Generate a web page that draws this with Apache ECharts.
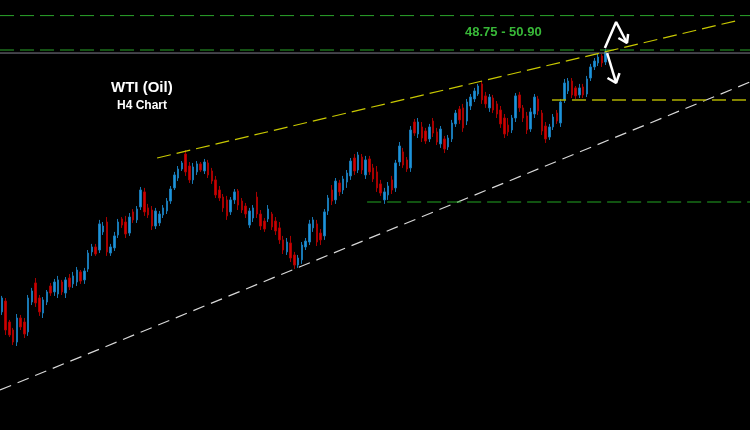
<!DOCTYPE html>
<html><head><meta charset="utf-8">
<script src="https://cdn.jsdelivr.net/npm/echarts@6/dist/echarts.min.js"></script>
<style>html,body{margin:0;padding:0;background:#000}#c{width:750px;height:430px}</style>
</head><body><div id="c"></div>
<script>
// H4 candles: [open, close, low, high]
const ohlc = [
[32.38,33.25,32.19,33.38],[33.06,31.25,30.94,33.25],[31.75,30.94,30.81,31.88],[31.25,30.5,30.31,31.38],
[30.5,32.0,30.25,32.25],[32.0,31.44,31.25,32.19],[31.75,31.0,30.75,32.0],[31.13,33.25,30.88,33.44],
[33.0,33.69,32.81,33.88],[34.19,32.94,32.69,34.5],[33.25,32.38,32.13,33.44],[32.31,33.13,32.0,33.31],
[33.0,33.63,32.81,33.75],[34.0,33.56,33.38,34.19],[33.63,34.25,33.38,34.44],[33.5,34.38,33.25,34.63],
[34.25,33.63,33.44,34.38],[33.56,34.38,33.25,34.56],[34.5,33.94,33.75,34.75],[34.13,34.63,33.88,34.88],
[34.25,35.0,34.0,35.19],[34.88,34.31,34.13,35.0],[34.38,34.94,34.13,35.13],[35.06,36.06,34.88,36.25],
[36.13,36.44,35.88,36.63],[36.44,36.0,35.88,36.63],[36.25,37.88,36.06,38.13],[37.38,37.75,37.19,38.0],
[38.0,36.13,35.88,38.31],[36.06,36.44,35.88,36.63],[36.38,37.13,36.19,37.38],[37.19,38.0,37.0,38.19],
[38.19,37.81,37.63,38.31],[38.0,37.25,37.0,38.38],[37.31,38.31,37.13,38.56],[38.63,38.13,37.94,38.81],
[38.13,38.81,37.94,39.0],[38.94,40.0,38.75,40.19],[39.88,38.63,38.38,40.13],[38.88,38.44,38.25,39.13],
[38.75,37.75,37.5,39.0],[37.75,38.69,37.56,38.88],[37.94,38.5,37.75,38.69],[38.44,38.88,38.25,39.06],
[38.69,39.31,38.5,39.5],[39.31,40.06,39.13,40.25],[40.13,40.94,40.0,41.13],[40.75,41.31,40.56,41.5],
[41.31,41.69,41.19,41.81],[42.25,41.13,40.88,42.5],[41.5,40.63,40.44,41.75],[40.63,41.44,40.38,41.69],
[41.13,41.63,40.94,41.81],[41.63,41.25,41.13,41.75],[41.19,41.75,41.0,41.94],[41.69,40.94,40.75,41.88],
[41.19,40.56,40.38,41.38],[40.63,39.69,39.5,40.88],[40.0,39.5,39.31,40.25],[39.56,38.88,38.63,39.75],
[39.38,38.38,38.13,39.63],[38.63,39.38,38.44,39.56],[39.38,39.88,39.13,40.06],[39.94,39.06,38.75,40.06],
[39.31,38.75,38.56,39.5],[39.0,38.5,38.25,39.19],[37.81,38.69,37.63,38.88],[38.25,38.88,38.0,39.06],
[39.56,38.5,38.25,39.88],[38.5,37.75,37.5,38.75],[38.06,37.56,37.38,38.25],[38.19,38.81,38.0,39.06],
[38.5,37.69,37.5,38.63],[38.06,37.44,37.19,38.31],[37.63,36.88,36.63,38.0],[36.88,36.25,36.0,37.13],
[36.13,36.75,35.94,37.0],[36.69,35.75,35.5,37.13],[35.94,35.31,35.06,36.13],[35.31,35.75,35.13,35.94],
[35.63,36.56,35.38,36.75],[36.44,36.81,36.25,37.0],[36.75,37.88,36.56,38.13],[37.63,38.13,37.38,38.31],
[37.88,36.75,36.5,38.13],[37.31,36.88,36.56,37.56],[37.13,38.63,36.88,38.81],[38.69,39.5,38.44,39.69],
[40.0,39.31,39.06,40.31],[39.38,40.56,39.13,40.75],[40.44,39.88,39.63,40.63],[40.0,40.69,39.75,40.88],
[40.5,41.06,40.13,41.25],[40.88,41.81,40.63,42.0],[42.0,41.19,40.94,42.25],[41.25,42.19,41.06,42.38],
[42.06,41.25,41.0,42.25],[40.94,41.88,40.69,42.13],[41.94,41.13,40.94,42.13],[41.38,40.69,40.5,41.63],
[41.13,40.13,39.88,41.5],[40.38,39.81,39.63,40.63],[39.38,39.88,39.13,40.13],[39.69,40.25,39.38,40.5],
[40.63,40.0,39.75,40.88],[40.13,41.69,39.88,41.88],[41.75,42.75,41.5,43.0],[42.38,41.56,41.38,42.63],
[41.88,41.31,41.13,42.06],[41.38,43.75,41.13,44.0],[44.25,43.56,43.38,44.44],[43.5,44.25,43.25,44.5],
[43.94,43.25,43.0,44.25],[43.69,43.06,42.88,43.88],[43.19,43.94,43.0,44.13],[44.31,43.56,43.31,44.5],
[43.63,43.0,42.81,43.88],[42.88,43.81,42.63,44.0],[43.19,42.56,42.31,43.38],[42.69,43.25,42.5,43.44],
[43.19,44.19,43.0,44.38],[44.13,44.81,43.94,45.0],[45.06,44.38,44.13,45.25],[45.13,43.88,43.63,45.38],
[44.31,45.5,44.06,45.69],[45.25,45.81,45.0,46.0],[45.69,46.19,45.5,46.38],[46.0,46.5,45.88,46.63],
[46.63,45.63,45.38,46.81],[45.88,45.38,45.13,46.13],[45.13,45.81,44.88,46.0],[45.75,45.0,44.81,45.94],
[45.38,44.75,44.5,45.56],[45.0,44.13,43.88,45.25],[44.5,43.5,43.25,44.75],[44.06,43.63,43.38,44.5],
[43.75,44.5,43.56,44.69],[44.5,45.88,44.25,46.06],[45.94,45.13,44.88,46.13],[45.13,44.5,44.25,45.31],
[44.63,43.75,43.5,44.88],[43.81,44.88,43.63,45.13],[44.75,45.81,44.5,46.0],[45.69,44.94,44.69,45.88],
[44.81,43.69,43.44,45.0],[44.0,43.19,42.94,44.25],[43.31,43.94,43.13,44.13],[43.94,44.56,43.75,44.75],
[44.81,44.31,44.13,45.0],[44.19,45.5,43.94,45.69],[45.63,46.69,45.44,46.94],[46.19,46.81,46.0,47.0],
[46.81,45.94,45.75,47.0],[46.38,45.88,45.69,46.5],[45.94,46.38,45.75,46.63],[46.44,45.94,45.75,46.63],
[46.0,46.94,45.81,47.13],[47.0,47.69,46.81,47.88],[47.69,48.06,47.5,48.25],[47.94,48.31,47.75,48.5],
[48.38,47.94,47.69,48.5],[48.0,48.63,47.81,48.81]
];
const totalBars = 200;            // bar slots across the visible window
const priceMin = 25.0, priceMax = 51.875;

// analyst drawings, as [bar index, price]
const upperTrend = [[41.4, 42.0], [196.8, 50.63]];
const lowerTrend = [[-0.5, 27.5], [199.5, 46.75]];
const zoneTop = 50.90, zoneBottom = 48.75;
const lastPrice = 48.56;
const resistanceStart = 146.7, resistancePrice = 45.63;
const supportStart = 97.4, supportPrice = 39.25;
const arrowUp = [[160.8, 48.88], [163.8, 50.5], [166.7, 49.19]];
const arrowUpHead = [[164.4, 49.5], [166.7, 49.19], [167.0, 49.75]];
const arrowDown = [[161.4, 48.56], [163.8, 46.69]];
const arrowDownHead = [[161.5, 47.0], [163.8, 46.69], [164.7, 47.31]];

const title = 'WTI (Oil)', subtitle = 'H4 Chart', zoneLabel = '48.75 - 50.90';

const barSlots = Array.from({length: totalBars}, (_, i) => String(i));
const leftEdge = -0.5, rightEdge = totalBars - 0.5;

function seg(pts, color, width, dash, z) {
  return {type: 'line', xAxisIndex: 1, data: pts, symbol: 'none', silent: true, z: z || 5,
    lineStyle: {color: color, width: width, type: dash || 'solid'}, animation: false};
}

const chart = echarts.init(document.getElementById('c'), null, {renderer: 'canvas'});
chart.setOption({
  backgroundColor: '#000',
  animation: false,
  grid: {left: 0, right: 0, top: 0, bottom: 0},
  xAxis: [
    {type: 'category', data: barSlots, show: false, boundaryGap: true},
    {type: 'value', min: leftEdge, max: rightEdge, show: false}
  ],
  yAxis: {type: 'value', min: priceMin, max: priceMax, show: false, splitLine: {show: false}},
  series: [
    {type: 'candlestick', data: ohlc, barWidth: 2, z: 3,
      itemStyle: {color: '#1c94dc', color0: '#d00000', borderColor: '#1878b4', borderColor0: '#a80000', borderWidth: 1}},
    seg([[leftEdge, zoneTop], [rightEdge, zoneTop]], '#2aa52a', 1, [14, 6]),
    seg([[leftEdge, zoneBottom], [rightEdge, zoneBottom]], '#2aa52a', 1, [14, 6]),
    seg([[leftEdge, lastPrice], [rightEdge, lastPrice]], '#80808e', 1, 'solid', 4),
    seg(upperTrend, '#c8c800', 1.2, [14, 6]),
    seg(lowerTrend, '#d8d8d8', 1.2, [12, 7]),
    seg([[resistanceStart, resistancePrice], [rightEdge, resistancePrice]], '#b0b000', 1.5, [14, 6]),
    seg([[supportStart, supportPrice], [rightEdge, supportPrice]], '#22a622', 1.2, [14, 6]),
    seg(arrowUp, '#ffffff', 2.5, 'solid', 8),
    seg(arrowUpHead, '#ffffff', 2.5, 'solid', 8),
    seg(arrowDown, '#ffffff', 2.5, 'solid', 8),
    seg(arrowDownHead, '#ffffff', 2.5, 'solid', 8)
  ],
  graphic: [
    {type: 'text', left: 111, top: 80, z: 10, style: {text: title, fill: '#ffffff', font: 'bold 15px "Liberation Sans", Arial, sans-serif'}},
    {type: 'text', left: 117, top: 100, z: 10, style: {text: subtitle, fill: '#ffffff', font: 'bold 12px "Liberation Sans", Arial, sans-serif'}},
    {type: 'text', left: 465, top: 26, z: 10, style: {text: zoneLabel, fill: '#38b838', font: 'bold 13px "Liberation Sans", Arial, sans-serif'}}
  ]
});
</script></body></html>
